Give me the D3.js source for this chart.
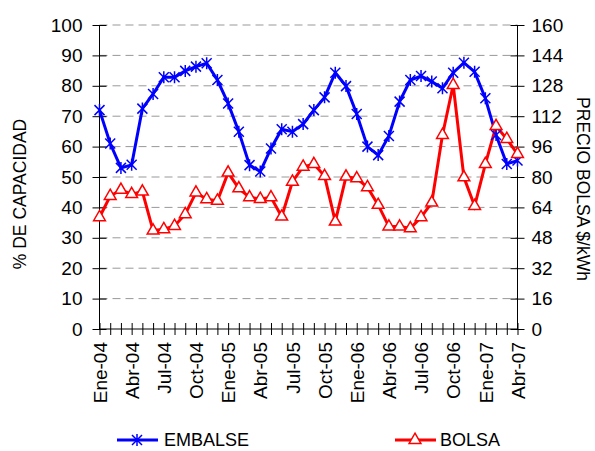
<!DOCTYPE html>
<html>
<head>
<meta charset="utf-8">
<script src="https://cdn.jsdelivr.net/npm/d3@7"></script>
<style>
  body { margin: 0; background: #fff; }
  svg text { font-family: "Liberation Sans Narrow", "Liberation Sans", Arial, sans-serif; fill: #000; }
</style>
</head>
<body>
<div id="chart"></div>
<script>
// month labels, Ene-04 .. Abr-07
var months = ["Ene-04","Feb-04","Mar-04","Abr-04","May-04","Jun-04","Jul-04","Ago-04","Sep-04","Oct-04","Nov-04","Dic-04",
              "Ene-05","Feb-05","Mar-05","Abr-05","May-05","Jun-05","Jul-05","Ago-05","Sep-05","Oct-05","Nov-05","Dic-05",
              "Ene-06","Feb-06","Mar-06","Abr-06","May-06","Jun-06","Jul-06","Ago-06","Sep-06","Oct-06","Nov-06","Dic-06",
              "Ene-07","Feb-07","Mar-07","Abr-07"];

// % de capacidad (eje izquierdo)
var embalse = [72, 61, 53, 54, 72.5, 77.3, 82.8, 82.8, 84.9, 86.3, 87.4, 81.9,
               74.2, 64.9, 53.9, 51.8, 59.4, 65.7, 64.9, 67.4, 72, 76.2, 84.3, 79.9,
               70.7, 60, 57.2, 63.5, 74.8, 81.9, 83.2, 81.4, 79.2, 84.3, 87.6, 84.6,
               75.9, 63.8, 54.3, 55.4];

// precio bolsa $/kWh (eje derecho)
var bolsa = [58.8, 70, 73.2, 71, 72.3, 51.8, 52.5, 54.2, 60.4, 71.8, 68.3, 67.5,
             82.3, 74, 69.3, 68.4, 69.3, 59.1, 77.5, 85.4, 86.8, 80.5, 56.5, 80.2,
             79.3, 74.6, 65.3, 53.9, 53.9, 53, 58.8, 66.5, 102.1, 128.4, 79.8, 64.7,
             86.8, 106.8, 100, 92.1];

var leftTicks = [0, 10, 20, 30, 40, 50, 60, 70, 80, 90, 100];
var rightTicks = [0, 16, 32, 48, 64, 80, 96, 112, 128, 144, 160];
var labelMonths = ["Ene-04","Abr-04","Jul-04","Oct-04","Ene-05","Abr-05","Jul-05","Oct-05","Ene-06","Abr-06","Jul-06","Oct-06","Ene-07","Abr-07"];

var W = 595, H = 451;
var plot = { left: 99.5, right: 517.5, top: 25, bottom: 329 };

var svg = d3.select("#chart").append("svg")
    .attr("width", W)
    .attr("height", H);

var x = d3.scalePoint()
    .domain(months)
    .range([plot.left, plot.right]);

var yL = d3.scaleLinear().domain([0, 100]).range([plot.bottom, plot.top]);
var yR = d3.scaleLinear().domain([0, 160]).range([plot.bottom, plot.top]);

// gridlines
svg.append("g")
    .selectAll("line")
    .data(leftTicks.filter(function(d) { return d > 0; }))
    .enter().append("line")
    .attr("x1", plot.left)
    .attr("x2", plot.right)
    .attr("y1", function(d) { return yL(d); })
    .attr("y2", function(d) { return yL(d); })
    .attr("stroke", "#999")
    .attr("stroke-width", 1)
    .attr("stroke-dasharray", "8,5");

// left axis
var gL = svg.append("g")
    .attr("transform", "translate(" + plot.left + ",0)")
    .call(d3.axisLeft(yL).tickValues(leftTicks).tickSize(7).tickPadding(10));
gL.selectAll(".tick line").attr("x2", 7).attr("x1", -7).attr("stroke", "#000");
gL.select(".domain").attr("stroke", "#000").attr("d", "M0," + plot.top + "V" + plot.bottom);
gL.selectAll("text").style("font-size", "19px").attr("x", -17);

// right axis
var gR = svg.append("g")
    .attr("transform", "translate(" + plot.right + ",0)")
    .call(d3.axisRight(yR).tickValues(rightTicks).tickSize(7).tickPadding(10));
gR.selectAll(".tick line").attr("x1", -7).attr("x2", 7).attr("stroke", "#000");
gR.select(".domain").attr("stroke", "#000").attr("d", "M0," + plot.top + "V" + plot.bottom);
gR.selectAll("text").style("font-size", "19px").attr("x", 14);

// bottom axis
var gB = svg.append("g")
    .attr("transform", "translate(0," + plot.bottom + ")")
    .call(d3.axisBottom(x).tickSize(6).tickFormat(function(d) { return labelMonths.indexOf(d) >= 0 ? d : ""; }));
gB.selectAll(".tick line").attr("y1", -6).attr("y2", 6).attr("stroke", "#000");
gB.select(".domain").attr("stroke", "#000").attr("d", "M" + plot.left + ",0H" + plot.right);
gB.selectAll("text")
    .style("font-size", "19px")
    .attr("transform", "rotate(-90)")
    .attr("x", -13)
    .attr("y", 0)
    .attr("dy", "0.35em")
    .style("text-anchor", "end");

// axis titles
svg.append("text")
    .attr("transform", "translate(26,194) rotate(-90)")
    .attr("text-anchor", "middle")
    .style("font-family", "'Liberation Sans', Arial, sans-serif")
    .style("font-size", "17.5px")
    .text("% DE CAPACIDAD");

svg.append("text")
    .attr("transform", "translate(577,189) rotate(90)")
    .attr("text-anchor", "middle")
    .style("font-family", "'Liberation Sans', Arial, sans-serif")
    .style("font-size", "17.5px")
    .text("PRECIO BOLSA $/kWh");

// lines
var lineL = d3.line()
    .x(function(d, i) { return x(months[i]); })
    .y(function(d) { return yL(d); });
var lineR = d3.line()
    .x(function(d, i) { return x(months[i]); })
    .y(function(d) { return yR(d); });

var blue = "#0000ff", red = "#ff0000";

svg.append("path")
    .datum(embalse)
    .attr("d", lineL)
    .attr("fill", "none")
    .attr("stroke", blue)
    .attr("stroke-width", 3);

svg.append("path")
    .datum(bolsa)
    .attr("d", lineR)
    .attr("fill", "none")
    .attr("stroke", red)
    .attr("stroke-width", 3);

// markers
function star(g, cx, cy) {
    var s = 5;
    g.append("path")
        .attr("d", "M" + (cx - s) + "," + (cy - s) + "L" + (cx + s) + "," + (cy + s) +
                   "M" + (cx - s) + "," + (cy + s) + "L" + (cx + s) + "," + (cy - s) +
                   "M" + cx + "," + (cy - s - 1) + "L" + cx + "," + (cy + s + 1))
        .attr("stroke", blue)
        .attr("stroke-width", 1.5)
        .attr("fill", "none");
}
var tri = d3.symbol().type(d3.symbolTriangle).size(60);

var gStars = svg.append("g");
embalse.forEach(function(d, i) { star(gStars, x(months[i]), yL(d)); });

svg.append("g")
    .selectAll("path")
    .data(bolsa)
    .enter().append("path")
    .attr("d", tri)
    .attr("transform", function(d, i) { return "translate(" + x(months[i]) + "," + yR(d) + ")"; })
    .attr("fill", "#fff")
    .attr("stroke", red)
    .attr("stroke-width", 1.5);

// legend
var legY = 440;
svg.append("line").attr("x1", 117).attr("x2", 158).attr("y1", legY).attr("y2", legY)
    .attr("stroke", blue).attr("stroke-width", 3);
star(svg.append("g"), 137, legY);
svg.append("text").attr("x", 164).attr("y", legY).attr("dy", "0.35em")
    .style("font-size", "18px").text("EMBALSE");

svg.append("line").attr("x1", 395).attr("x2", 436).attr("y1", legY).attr("y2", legY)
    .attr("stroke", red).attr("stroke-width", 3);
svg.append("path").attr("d", tri).attr("transform", "translate(415," + legY + ")")
    .attr("fill", "#fff").attr("stroke", red).attr("stroke-width", 1.5);
svg.append("text").attr("x", 440).attr("y", legY).attr("dy", "0.35em")
    .style("font-size", "18px").text("BOLSA");
</script>
</body>
</html>
